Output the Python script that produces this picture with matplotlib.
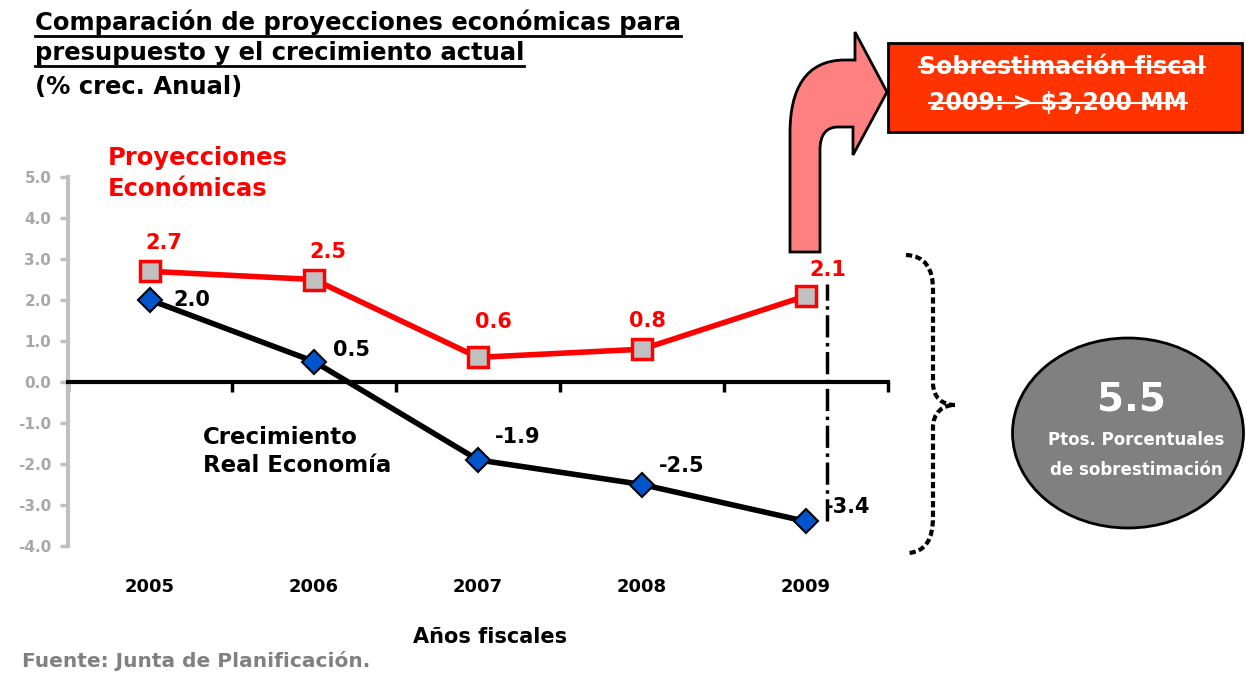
import matplotlib
matplotlib.use('Agg')
import matplotlib.pyplot as plt
import matplotlib.transforms as mtrans
from matplotlib.patches import PathPatch, Ellipse, Rectangle
from matplotlib.path import Path
from matplotlib.lines import Line2D

# datos
years = ['2005', '2006', '2007', '2008', '2009']
proyecciones = [2.7, 2.5, 0.6, 0.8, 2.1]
crecimiento = [2.0, 0.5, -1.9, -2.5, -3.4]
proy_labels = ['2.7', '2.5', '0.6', '0.8', '2.1']
crec_labels = ['2.0', '0.5', '-1.9', '-2.5', '-3.4']
yticks = [5.0, 4.0, 3.0, 2.0, 1.0, 0.0, -1.0, -2.0, -3.0, -4.0]
ytick_labels = ['5.0', '4.0', '3.0', '2.0', '1.0', '0.0', '-1.0', '-2.0', '-3.0', '-4.0']
sobrestimacion = '5.5'

# desplazamientos de las etiquetas (pixeles)
proy_off = [(14, 28), (14, 28), (15, 35), (5, 28), (22, 26)]
crec_off = [(42, 0), (38, 12), (40, 23), (40, 19), (42, 14)]

W, H = 1246, 674
fig = plt.figure(figsize=(W / 100, H / 100), dpi=100)


def P(x, y):
    return (x / W, 1 - y / H)


ax = fig.add_axes([68 / W, 1 - 546 / H, (888 - 68) / W, (546 - 177) / H])
x = list(range(len(years)))

ax.plot(x, proyecciones, color='red', lw=4, marker='s', ms=14,
        mfc='#c0c0c0', mec='red', mew=2.5, zorder=4, clip_on=False)
ax.plot(x, crecimiento, color='black', lw=4, marker='D', ms=12,
        mfc='#0055cc', mec='black', mew=1.5, zorder=4, clip_on=False)

for i in x:
    ax.annotate(proy_labels[i], (i, proyecciones[i]), xytext=proy_off[i],
                textcoords='offset pixels', ha='center', va='center',
                color='red', fontsize=15, fontweight='bold', zorder=5)
    ax.annotate(crec_labels[i], (i, crecimiento[i]), xytext=crec_off[i],
                textcoords='offset pixels', ha='center', va='center',
                color='black', fontsize=15, fontweight='bold', zorder=5)

# linea punteada de diferencia
ax.vlines(4.13, crecimiento[-1], proyecciones[-1] + 0.3, colors='black',
          linestyles='-.', lw=2.5, zorder=3)

ax.set_xlim(-0.5, 4.5)
ax.set_ylim(-4, 5)
ax.spines['top'].set_visible(False)
ax.spines['right'].set_visible(False)
ax.spines['left'].set_color('#c0c0c0')
ax.spines['left'].set_linewidth(3)
ax.spines['bottom'].set_position(('data', 0))
ax.spines['bottom'].set_linewidth(3)
ax.set_xticks([i - 0.5 for i in range(len(years) + 1)])
ax.set_xticklabels([])
ax.tick_params(axis='x', length=7, width=2.5, color='black')
ax.set_yticks(yticks)
ax.set_yticklabels(ytick_labels, color='#a8a8a8', fontsize=11, fontweight='bold')
ax.tick_params(axis='y', length=6, width=2.5, color='#c0c0c0', pad=6)

tr = mtrans.blended_transform_factory(ax.transData, fig.transFigure)
for i, yr in enumerate(years):
    ax.text(i, 1 - 587 / H, yr, transform=tr, ha='center', va='center',
            fontsize=13, fontweight='bold', clip_on=False)

fig.text(*P(490, 637), 'Años fiscales', ha='center', va='center',
         fontsize=15, fontweight='bold')
fig.text(*P(22, 661), 'Fuente: Junta de Planificación.', ha='left', va='center',
         fontsize=14.5, fontweight='bold', color='#808080')

# titulo
t1 = fig.text(*P(35, 22), 'Comparación de proyecciones económicas para', ha='left',
              va='center', fontsize=17.5, fontweight='bold')
t2 = fig.text(*P(35, 53), 'presupuesto y el crecimiento actual', ha='left',
              va='center', fontsize=17.5, fontweight='bold')
fig.text(*P(35, 87), '(% crec. Anual)', ha='left', va='center',
         fontsize=17.5, fontweight='bold')

fig.text(*P(108, 158), 'Proyecciones', ha='left', va='center', fontsize=17.5,
         fontweight='bold', color='red')
fig.text(*P(108, 189), 'Económicas', ha='left', va='center', fontsize=17.5,
         fontweight='bold', color='red')
fig.text(*P(203, 437), 'Crecimiento', ha='left', va='center', fontsize=16.5,
         fontweight='bold', color='black')
fig.text(*P(203, 466), 'Real Economía', ha='left', va='center', fontsize=16.5,
         fontweight='bold', color='black')

# flecha curva
verts = [(790, 252), (790, 133), (790, 90), (805, 60), (845, 60), (855, 60),
         (855, 32), (887, 92), (853, 155), (853, 127), (838, 127),
         (826, 127), (820, 135), (820, 150), (820, 252), (790, 252)]
codes = [Path.MOVETO, Path.LINETO, Path.CURVE4, Path.CURVE4, Path.CURVE4,
         Path.LINETO, Path.LINETO, Path.LINETO, Path.LINETO, Path.LINETO,
         Path.LINETO, Path.CURVE4, Path.CURVE4, Path.CURVE4, Path.LINETO,
         Path.CLOSEPOLY]
fig.add_artist(PathPatch(Path([P(*v) for v in verts], codes), facecolor='#ff8080',
                         edgecolor='black', lw=2, transform=fig.transFigure))

# recuadro
fig.add_artist(Rectangle(P(888, 132), (1242 - 888) / W, (132 - 43) / H,
                         facecolor='#ff3300', edgecolor='black', lw=2,
                         transform=fig.transFigure))
b1 = fig.text(*P(1062, 67), 'Sobrestimación fiscal', ha='center', va='center',
              fontsize=17, fontweight='bold', color='white')
b2 = fig.text(*P(1058, 103), '2009: > $3,200 MM', ha='center', va='center',
              fontsize=17, fontweight='bold', color='white')

# llave
bverts = [(906, 255), (925, 256), (933, 268), (933, 290), (933, 383),
          (933, 398), (943, 405), (955, 405), (943, 405), (933, 412),
          (933, 428), (933, 517), (933, 540), (925, 552), (908, 553)]
bcodes = [Path.MOVETO, Path.CURVE4, Path.CURVE4, Path.CURVE4, Path.LINETO,
          Path.CURVE4, Path.CURVE4, Path.CURVE4, Path.CURVE4, Path.CURVE4,
          Path.CURVE4, Path.LINETO, Path.CURVE4, Path.CURVE4, Path.CURVE4]
fig.add_artist(PathPatch(Path([P(*v) for v in bverts], bcodes), fill=False,
                         edgecolor='black', lw=3, linestyle=(0, (1.5, 0.8)),
                         transform=fig.transFigure))

# elipse
fig.add_artist(Ellipse(P(1128, 433), 231 / W, 190 / H, facecolor='#808080',
                       edgecolor='black', lw=2, transform=fig.transFigure))
fig.text(*P(1131, 400), sobrestimacion, ha='center', va='center', fontsize=28,
         fontweight='bold', color='white', family='Liberation Sans Narrow')
fig.text(*P(1136, 440), 'Ptos. Porcentuales', ha='center', va='center',
         fontsize=12, fontweight='bold', color='white')
fig.text(*P(1136, 470), 'de sobrestimación', ha='center', va='center',
         fontsize=12, fontweight='bold', color='white')

# subrayado y tachado
fig.canvas.draw()
r = fig.canvas.get_renderer()
for t in (t1, t2):
    bb = t.get_window_extent(r)
    fig.add_artist(Line2D([bb.x0 / W, bb.x1 / W], [(bb.y0 - 1) / H] * 2,
                          color='black', lw=2, transform=fig.transFigure))
for t in (b1, b2):
    bb = t.get_window_extent(r)
    ym = (bb.y0 + bb.y1) / 2 / H
    fig.add_artist(Line2D([bb.x0 / W, bb.x1 / W], [ym, ym], color='white',
                          lw=1.5, transform=fig.transFigure))

fig.savefig('out.png', dpi=100)
